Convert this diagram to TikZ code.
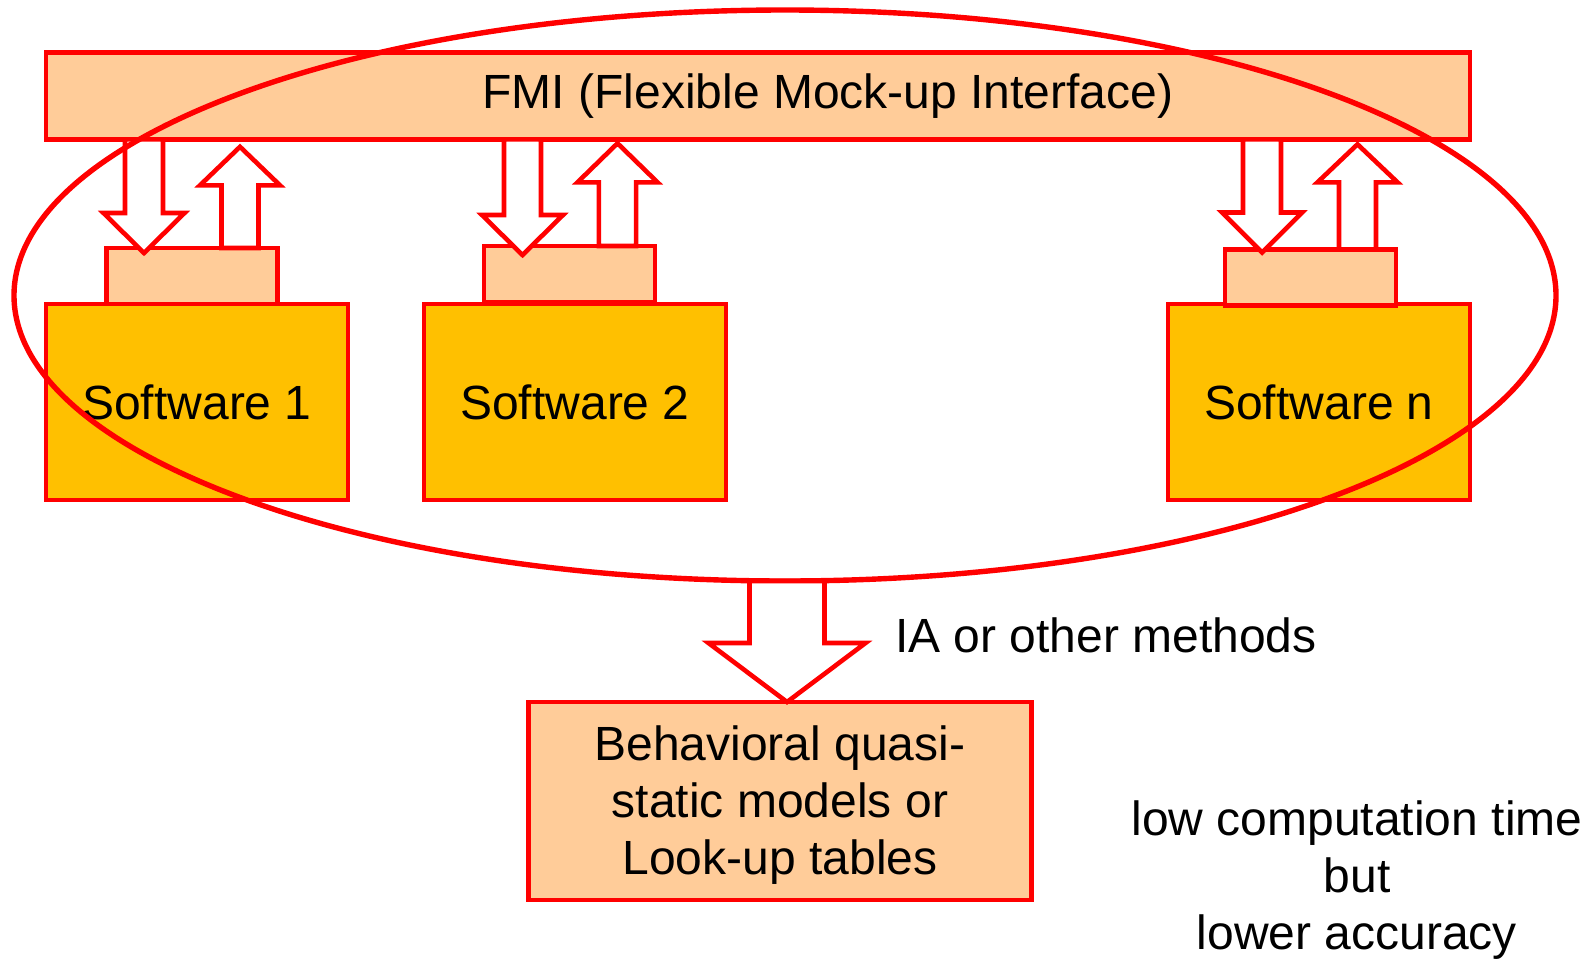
\documentclass[tikz,border=0pt]{standalone}
\usepackage{fontspec}
\setmainfont{Liberation Sans}
\usetikzlibrary{calc,shapes.geometric}

\definecolor{peach}{HTML}{FFCC99}
\definecolor{gold}{HTML}{FFC000}
\definecolor{linered}{HTML}{FF0000}

\tikzset{
  txt/.style={font=\fontsize{24pt}{28.5pt}\selectfont},
  base/.style={draw=linered, line width=2.3pt, inner sep=0pt, outer sep=0pt, txt},
  barbox/.style={base, fill=peach},
  softbox/.style={base, fill=gold, minimum width=151pt, minimum height=98pt},
  portbox/.style={base, fill=peach, minimum width=85.5pt, minimum height=28pt},
  blockarr/.style={draw=linered, fill=white, line width=2.3pt, line join=miter},
  plain/.style={inner sep=0pt, outer sep=0pt, txt},
}

% Hollow block arrow from one node anchor to another.
% #1 x position, #2 tail anchor, #3 target anchor, #4 tip shift past the target,
% #5 shaft half-width, #6 head half-width, #7 head length
\newcommand{\flowarrow}[7]{%
  \draw[blockarr] let \p0=(#1,0), \p1=(#2), \p2=(#3),
      \n1={ifthenelse(\y2<\y1,-1,1)}, \n2={\y2+\n1*#4}, \n3={\n2-\n1*#7} in
    ({\x0-#5},\y1) -- ({\x0-#5},{\n3*1pt}) -- ({\x0-#6},{\n3*1pt})
    -- (\x0,{\n2*1pt}) -- ({\x0+#6},{\n3*1pt}) -- ({\x0+#5},{\n3*1pt})
    -- ({\x0+#5},\y1) -- cycle;}

\begin{document}
\begin{tikzpicture}[x=0.5pt, y=-0.5pt]
\useasboundingbox (0,0) rectangle (1591,959);

% interface bar
\node[barbox, minimum width=712pt, minimum height=43.3pt] (fmi) at (758,96) {};
\node[plain] (fmilabel) at (828,96) {FMI (Flexible Mock-up Interface)};

% simulation tools and their FMU ports
\node[softbox] (sw1) at (197,402) {Software 1};
\node[softbox] (sw2) at (575,402) {Software 2};
\node[softbox] (swn) at (1319,402) {Software n};
\node[portbox] (p1) at (192,276) {};
\node[portbox] (p2) at (569.5,274) {};
\node[portbox] (pn) at (1310.5,277.5) {};

% data exchange between the tools and the interface
\flowarrow{144}{fmi.south}{p1.north}{2.5pt}{9.5pt}{20.25pt}{20pt}
\flowarrow{240}{p1.north}{fmi.south}{-3.75pt}{9.25pt}{20pt}{19.25pt}
\flowarrow{522.5}{fmi.south}{p2.north}{4.5pt}{9.25pt}{20.25pt}{20pt}
\flowarrow{617.5}{p2.north}{fmi.south}{-2pt}{9.3pt}{20pt}{19.5pt}
\flowarrow{1262}{fmi.south}{pn.north}{1.5pt}{9.5pt}{20pt}{20pt}
\flowarrow{1357.5}{pn.north}{fmi.south}{-2.5pt}{9.25pt}{20pt}{19pt}

% co-simulation grouping
\node[ellipse, draw=linered, line width=2.7pt, inner sep=0pt, outer sep=0pt,
  minimum width=771pt, minimum height=285.5pt] (cosim) at (785,295.5) {};

% reduced model
\node[barbox, minimum width=251.25pt, minimum height=99pt] (model) at (780,801) {};
\node[plain, align=center] (modellabel) at (780,805)
  {Behavioral quasi-\\static models or\\Look-up tables};
\flowarrow{787}{cosim.south}{model.north}{0pt}{18.75pt}{39.25pt}{29.5pt}

\node[plain, anchor=base west] (method) at (895,652) {IA or other methods};
\node[plain, align=center] (tradeoff) at (1357,880)
  {low computation time\\but\\lower accuracy};
\end{tikzpicture}
\end{document}
